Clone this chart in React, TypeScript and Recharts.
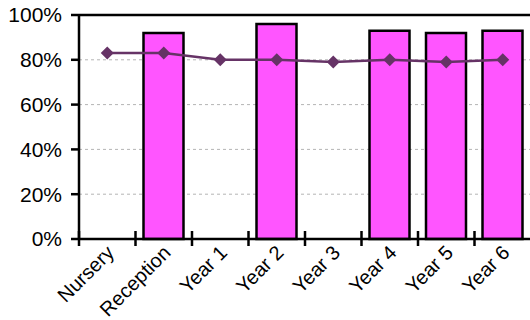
import React from 'react';
import {
  ComposedChart,
  Bar,
  Line,
  XAxis,
  YAxis,
  CartesianGrid,
  ReferenceLine,
} from 'recharts';

const categories = ['Nursery', 'Reception', 'Year 1', 'Year 2', 'Year 3', 'Year 4', 'Year 5', 'Year 6'];
const barValues = [null, 92, null, 96, null, 93, 92, 93];
const lineValues = [83, 83, 80, 80, 79, 80, 79, 80];
const yTicks = [0, 20, 40, 60, 80, 100];

const chartData = categories.map((name, i) => ({
  name,
  bar: barValues[i],
  line: lineValues[i],
}));

const WIDTH = 532;
const HEIGHT = 320;
const AXIS_W = 79;
const MARGIN_RIGHT = 1;
const BAND = (WIDTH - AXIS_W - MARGIN_RIGHT) / categories.length;
const FONT = '"Liberation Sans", Arial, sans-serif';

// ticks sit between categories, text hangs off the centre
const CategoryTick = (props: any) => {
  const { x, y, payload } = props;
  const half = BAND / 2;
  return (
    <g>
      <line x1={x - half} x2={x - half} y1={y - 8} y2={y + 7} stroke="#000" strokeWidth={2.5} />
      <text
        transform={`translate(${x + 8},${y + 15}) rotate(-45)`}
        textAnchor="end"
        fontSize={20}
        fontFamily={FONT}
        fill="#000"
      >
        {payload.value}
      </text>
    </g>
  );
};

const Diamond = (props: any) => {
  const { cx, cy } = props;
  if (cx == null || cy == null) return null;
  const r = 6.5;
  return (
    <polygon
      points={`${cx},${cy - r} ${cx + r},${cy} ${cx},${cy + r} ${cx - r},${cy}`}
      fill="#663366"
    />
  );
};

export default function App() {
  return (
    <div style={{ position: 'absolute', left: 0, top: 0, width: 530, height: 320, overflow: 'hidden', background: '#fff' }}>
      <ComposedChart
        width={WIDTH}
        height={HEIGHT}
        data={chartData}
        margin={{ top: 15, right: MARGIN_RIGHT, left: 0, bottom: 0 }}
      >
        <CartesianGrid horizontal vertical={false} stroke="#b4b4b4" strokeDasharray="3 3" />
        <XAxis
          dataKey="name"
          height={81}
          interval={0}
          tickSize={0}
          tickMargin={0}
          tickLine={false}
          axisLine={{ stroke: '#000', strokeWidth: 2.5 }}
          tick={<CategoryTick />}
        />
        <YAxis
          width={AXIS_W}
          domain={[0, 100]}
          ticks={yTicks}
          tickFormatter={(v: number) => `${v}%`}
          tickSize={8}
          tickMargin={9}
          tickLine={{ stroke: '#000', strokeWidth: 2.5 }}
          axisLine={{ stroke: '#000', strokeWidth: 2.5 }}
          tick={{ fill: '#000', fontSize: 21, fontFamily: FONT }}
        />
        <ReferenceLine y={100} stroke="#000" strokeWidth={2.5} />
        <Bar
          dataKey="bar"
          barSize={40}
          fill="#ff55ff"
          stroke="#000"
          strokeWidth={2.5}
          isAnimationActive={false}
        />
        <Line
          dataKey="line"
          stroke="#663366"
          strokeWidth={2.5}
          type="linear"
          dot={<Diamond />}
          activeDot={false}
          isAnimationActive={false}
        />
      </ComposedChart>
    </div>
  );
}
